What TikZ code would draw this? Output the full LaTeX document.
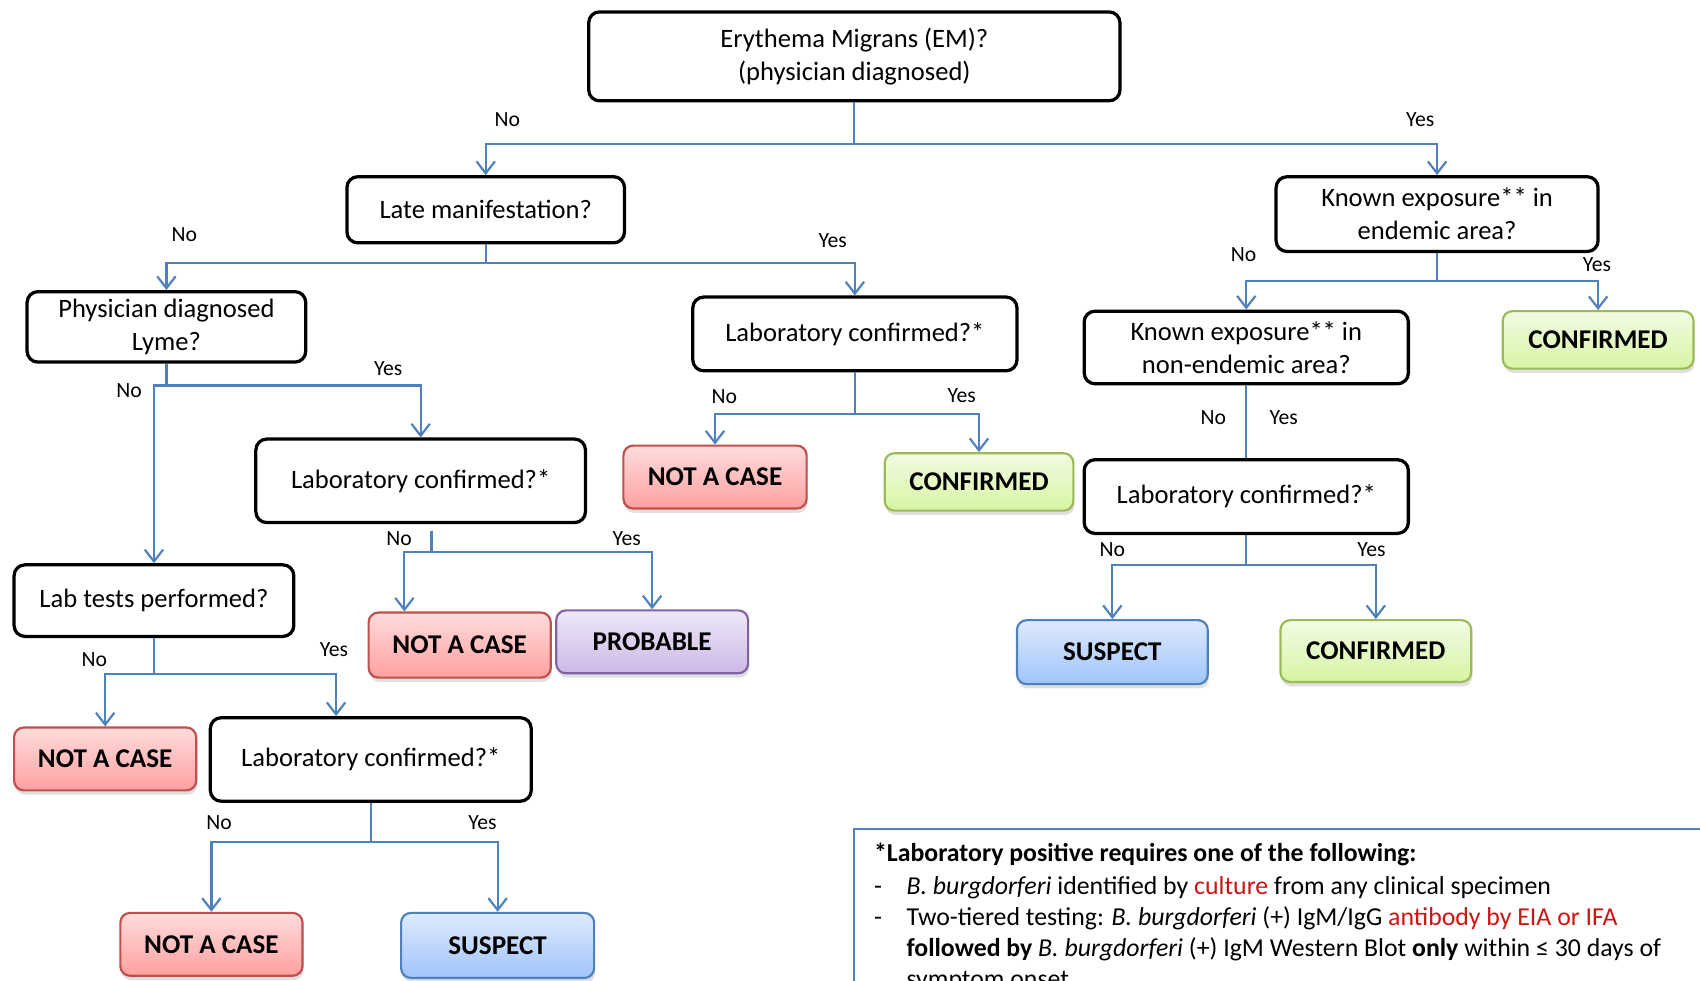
\documentclass[tikz,border=0pt]{standalone}
\usepackage{fontspec}
\setmainfont{Carlito}
\usetikzlibrary{arrows.meta,shadows}
\definecolor{lineblue}{RGB}{79,129,189}
\definecolor{nacT}{RGB}{255,220,220}
\definecolor{nacB}{RGB}{255,160,160}
\definecolor{nacD}{RGB}{192,80,77}
\definecolor{cnfT}{RGB}{242,251,228}
\definecolor{cnfB}{RGB}{214,245,163}
\definecolor{cnfD}{RGB}{155,187,89}
\definecolor{prbT}{RGB}{238,231,248}
\definecolor{prbB}{RGB}{204,185,230}
\definecolor{prbD}{RGB}{128,100,162}
\definecolor{supT}{RGB}{222,234,253}
\definecolor{supB}{RGB}{160,196,250}
\definecolor{supD}{RGB}{79,129,189}
\definecolor{fnred}{RGB}{204,20,20}
\newcommand\qfont{\fontsize{24.5}{30.5}\selectfont}
\newcommand\ofont{\fontsize{25}{30}\selectfont\bfseries}
\newcommand\lfont{\fontsize{20}{24}\selectfont}
\newcommand\fnfont{\fontsize{23.8}{29}\selectfont}
\tikzset{
  q/.style={draw=black, line width=3pt, rounded corners=10pt, fill=white, align=center, font=\qfont, inner sep=2pt},
  outc/.style={rounded corners=9pt, line width=2pt, font=\ofont, inner sep=2pt,
     drop shadow={shadow xshift=1pt, shadow yshift=-4pt, opacity=0.25}},
  nac/.style={outc, draw=nacD, top color=nacT, bottom color=nacB},
  cnf/.style={outc, draw=cnfD, top color=cnfT, bottom color=cnfB},
  prb/.style={outc, draw=prbD, top color=prbT, bottom color=prbB},
  sup/.style={outc, draw=supD, top color=supT, bottom color=supB},
  lbl/.style={font=\lfont, inner sep=0pt},
  fn/.style={font=\fnfont, inner sep=0pt, anchor=base west},
  conn/.style={draw=lineblue, line width=2pt},
  arr/.style={conn, -{Straight Barb[length=11pt,width=17pt]}},
}
\begin{document}
\begin{tikzpicture}[x=1pt,y=-1pt]
\useasboundingbox (0,0) rectangle (1568,904);
\clip (0,0) rectangle (1568,904);
\fill[white] (0,0) rectangle (1568,904);
% question boxes
\node[q, minimum width=490pt, minimum height=82pt] (em) at (788,52) {Erythema Migrans (EM)?\\(physician diagnosed)};
\node[q, minimum width=256pt, minimum height=61pt] (late) at (448,193.5) {Late manifestation?};
\node[q, minimum width=297pt, minimum height=69pt] (kend) at (1325.5,197.5) {Known exposure** in\\endemic area?};
\node[q, minimum width=257pt, minimum height=65pt] (phys) at (153.5,301.5) {Physician diagnosed\\Lyme?};
\node[q, minimum width=299pt, minimum height=68pt] (lab1) at (788.5,308) {Laboratory confirmed?*};
\node[q, minimum width=299pt, minimum height=67pt] (knon) at (1149.5,320.5) {Known exposure** in\\non-endemic area?};
\node[q, minimum width=304pt, minimum height=77pt] (lab2) at (388,443.5) {Laboratory confirmed?*};
\node[q, minimum width=299pt, minimum height=68pt] (lab3) at (1149.5,458) {Laboratory confirmed?*};
\node[q, minimum width=258pt, minimum height=66pt] (tests) at (142,554) {Lab tests performed?};
\node[q, minimum width=296pt, minimum height=77pt] (lab4) at (342,700.5) {Laboratory confirmed?*};
% outcome boxes
\node[cnf, minimum width=176pt, minimum height=53pt] (conf1) at (1474,313.5) {CONFIRMED};
\node[nac, minimum width=169pt, minimum height=58pt] (nac1) at (659.5,440) {NOT A CASE};
\node[cnf, minimum width=174pt, minimum height=53pt] (conf2) at (903,444.5) {CONFIRMED};
\node[nac, minimum width=168pt, minimum height=60pt] (nac2) at (424,595) {NOT A CASE};
\node[prb, minimum width=177pt, minimum height=58pt] (prob) at (601.5,592) {PROBABLE};
\node[sup, minimum width=176pt, minimum height=59pt] (susp1) at (1026,601.5) {SUSPECT};
\node[cnf, minimum width=176pt, minimum height=57pt] (conf3) at (1269,600.5) {CONFIRMED};
\node[nac, minimum width=168pt, minimum height=58pt] (nac3) at (97,700) {NOT A CASE};
\node[nac, minimum width=168pt, minimum height=58pt] (nac4) at (195,871) {NOT A CASE};
\node[sup, minimum width=178pt, minimum height=60pt] (susp2) at (459,872) {SUSPECT};
% connectors
\draw[arr] (em.south) -- ++(0,38) -| (late.north);
\draw[arr] (em.south) -- ++(0,38) -| (kend.north);
\draw[arr] (late.south) -- ++(0,17) -| (phys.north);
\draw[arr] (late.south) -- ++(0,17) -| (lab1.north);
\draw[arr] (kend.south) -- ++(0,26) -| (knon.north);
\draw[arr] (kend.south) -- ++(0,26) -| (conf1.north);
\draw[arr] (phys.south) -- ++(0,20) -| (tests.north);
\draw[arr] (phys.south) -- ++(0,20) -| (lab2.north);
\draw[arr] (lab1.south) -- ++(0,38) -| (nac1.north);
\draw[arr] (lab1.south) -- ++(0,38) -| (conf2.north);
\draw[conn] (knon.south) -- (lab3.north);
\draw[arr] ([xshift=10pt,yshift=-6pt]lab2.south) -- ++(0,20) -| ([xshift=-51pt]nac2.north);
\draw[arr] ([xshift=10pt,yshift=-6pt]lab2.south) -- ++(0,20) -| (prob.north);
\draw[arr] (lab3.south) -- ++(0,28) -| (susp1.north);
\draw[arr] (lab3.south) -- ++(0,28) -| (conf3.north);
\draw[arr] (tests.south) -- ++(0,33) -| (nac3.north);
\draw[arr] (tests.south) -- ++(0,33) -| ([xshift=-32pt]lab4.north);
\draw[arr] (lab4.south) -- ++(0,36) -| (nac4.north);
\draw[arr] (lab4.south) -- ++(0,36) -| (susp2.north);
% labels
\node[lbl] (l1) at (468,110) {No};
\node[lbl] (l2) at (1310,110) {Yes};
\node[lbl] (l3) at (170,216) {No};
\node[lbl] (l4) at (768,222) {Yes};
\node[lbl] (l5) at (1147,235) {No};
\node[lbl] (l6) at (1473,244) {Yes};
\node[lbl] (l7) at (119,360) {No};
\node[lbl] (l8) at (358,340) {Yes};
\node[lbl] (l9) at (668,366) {No};
\node[lbl] (l10) at (887,365) {Yes};
\node[lbl] (l11) at (1119,385) {No};
\node[lbl] (l12) at (1184,385) {Yes};
\node[lbl] (l13) at (368,497) {No};
\node[lbl] (l14) at (578,497) {Yes};
\node[lbl] (l15) at (1026,507) {No};
\node[lbl] (l16) at (1265,507) {Yes};
\node[lbl] (l17) at (87,608) {No};
\node[lbl] (l18) at (308,599) {Yes};
\node[lbl] (l19) at (202,759) {No};
\node[lbl] (l20) at (445,759) {Yes};
% footnote
\draw[conn] (1600,765) -- (788,765) -- (788,930);
\node[fn] (f1) at (806,795) {\bfseries *Laboratory positive requires one of the following:};
\node[fn] (f2) at (806,825) {\makebox[30pt][l]{-}\textit{B. burgdorferi} identified by \textcolor{fnred}{culture} from any clinical specimen};
\node[fn] (f3) at (806,854) {\makebox[30pt][l]{-}Two-tiered testing: \textit{B. burgdorferi} (+) IgM/IgG \textcolor{fnred}{antibody by EIA or IFA}};
\node[fn] (f4) at (836,882) {\textbf{followed by} \textit{B. burgdorferi} (+) IgM Western Blot \textbf{only} within ≤ 30 days of};
\node[fn] (f5) at (836,911) {symptom onset};
\end{tikzpicture}
\end{document}
